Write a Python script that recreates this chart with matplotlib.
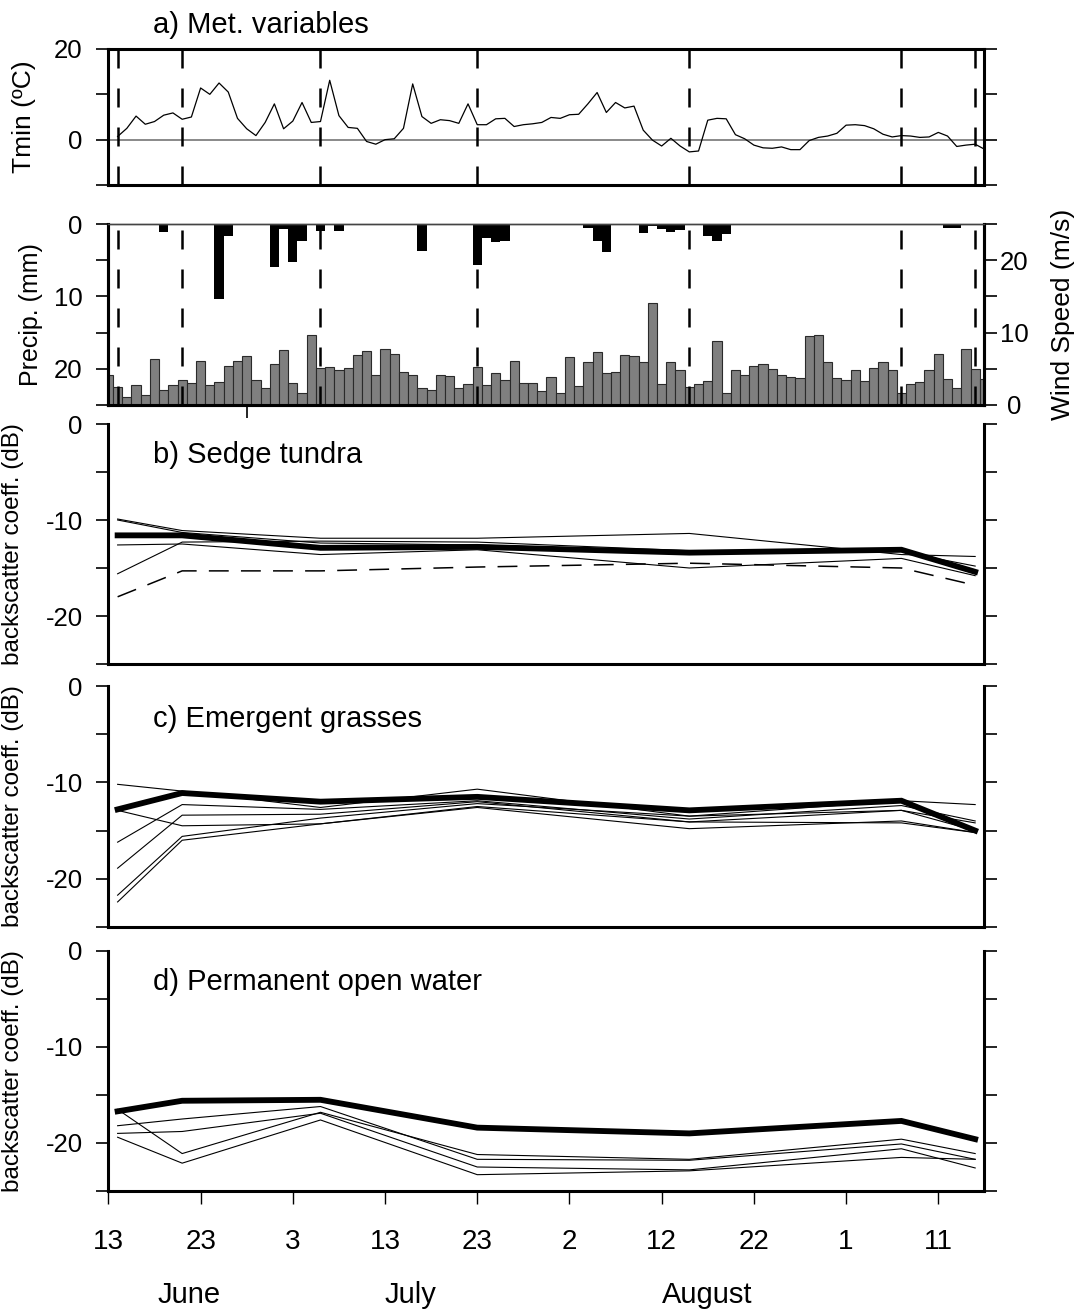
import numpy as np
import matplotlib
matplotlib.use('Agg')
from matplotlib import pyplot as plt
import matplotlib.transforms as mtransforms

plt.rcParams['font.family'] = ['Liberation Sans', 'DejaVu Sans']

# day numbers counted from 13 June
days = np.arange(0, 96)
tmin_days = np.arange(1, 96)
sar_days = [1, 8, 23, 40, 63, 86, 94]

tick_days = [0, 10, 20, 30, 40, 50, 60, 70, 80, 90]
tick_labels = ['13', '23', '3', '13', '23', '2', '12', '22', '1', '11']
months = ['June', 'July', 'August']

tmin = [0.7, 2.5, 5.2, 3.4, 4.0, 5.4, 5.9, 4.5, 5.0, 11.4,
        10.0, 12.5, 10.5, 4.7, 2.4, 0.9, 3.8, 7.9, 2.4, 4.1,
        8.2, 3.8, 4.0, 13.1, 5.3, 2.7, 2.5, -0.4, -1.0, 0.0,
        0.2, 2.5, 12.3, 5.1, 3.6, 4.4, 4.2, 3.6, 7.9, 3.3,
        3.3, 4.6, 4.7, 2.9, 3.3, 3.5, 3.8, 4.9, 4.7, 5.5,
        5.6, 7.9, 10.4, 6.0, 8.2, 7.0, 7.4, 2.1, -0.1, -1.4,
        0.3, -1.4, -2.7, -2.5, 4.3, 4.7, 4.6, 1.1, 0.2, -1.2,
        -1.8, -1.9, -1.6, -2.2, -2.2, -0.2, 0.5, 0.8, 1.4, 3.2,
        3.3, 3.1, 2.4, 1.2, 0.6, 0.9, 0.8, 0.5, 0.6, 1.6,
        0.8, -1.5, -1.2, -1.0, -2.1]

precip = [0, 0.15, 0.15, 0, 0, 0, 1.1, 0.1, 0, 0,
          0, 0, 10.4, 1.7, 0, 0, 0, 0, 6.0, 0.7,
          5.3, 2.3, 0.2, 0.9, 0.1, 0.9, 0.1, 0, 0.1, 0.1,
          0, 0, 0, 0.1, 3.7, 0.2, 0, 0.1, 0.1, 0,
          5.7, 2.0, 2.5, 2.3, 0, 0, 0, 0, 0, 0,
          0, 0, 0.6, 2.3, 3.8, 0, 0.2, 0, 1.2, 0.3,
          0.7, 1.1, 0.8, 0.1, 0.1, 1.6, 2.3, 1.4, 0.1, 0,
          0, 0.1, 0.1, 0, 0, 0.1, 0.1, 0, 0, 0,
          0.1, 0.1, 0, 0, 0.1, 0.1, 0, 0, 0, 0,
          0, 0.6, 0.6, 0, 0, 0]

wind = [4.2, 2.5, 1.1, 2.7, 1.4, 6.4, 2.1, 2.7, 3.5, 3.1,
        6.1, 2.7, 3.2, 5.4, 6.1, 6.8, 3.4, 2.3, 5.7, 7.6,
        3.1, 1.7, 9.6, 5.1, 5.3, 4.9, 5.1, 6.9, 7.5, 4.2,
        7.8, 7.0, 4.5, 4.1, 2.3, 2.1, 4.1, 4.0, 2.4, 2.9,
        5.3, 2.7, 4.4, 3.4, 6.1, 3.1, 3.0, 2.0, 3.9, 1.6,
        6.6, 2.6, 5.9, 7.3, 4.4, 4.5, 6.9, 6.7, 5.9, 14.1,
        2.9, 5.9, 4.9, 2.5, 2.9, 3.3, 8.9, 1.6, 4.9, 4.1,
        5.4, 5.7, 5.0, 4.2, 3.9, 3.7, 9.5, 9.6, 5.9, 3.7,
        3.5, 4.9, 3.3, 5.1, 5.9, 4.8, 1.7, 2.9, 3.2, 4.9,
        7.0, 3.6, 2.4, 7.7, 5.0, 3.6]

# backscatter (dB) at the SAR dates: mean (thick) and single sites (thin)
sedge_mean = [-11.6, -11.6, -12.9, -12.8, -13.4, -13.1, -15.4]
sedge_sites = [[-9.9, -11.1, -11.9, -11.9, -11.4, -13.6, -13.8],
               [-10.0, -11.3, -12.4, -12.6, -13.3, -13.3, -14.8],
               [-12.6, -12.5, -13.6, -13.1, -15.0, -14.0, -15.8],
               [-15.6, -12.3, -12.2, -12.3, -13.2, -13.2, -15.2]]
sedge_dashed = [-18.0, -15.3, -15.3, -14.9, -14.5, -15.0, -16.8]

grass_mean = [-12.8, -11.1, -12.0, -11.5, -12.9, -11.9, -15.0]
grass_sites = [[-10.2, -10.9, -12.6, -10.7, -13.5, -11.9, -12.3],
               [-12.9, -14.5, -14.3, -12.6, -14.8, -14.0, -15.2],
               [-16.2, -12.3, -12.8, -11.9, -13.8, -12.4, -14.0],
               [-18.9, -13.4, -13.3, -12.0, -14.1, -12.9, -14.2],
               [-21.7, -15.6, -13.7, -12.2, -13.5, -12.9, -15.0],
               [-22.4, -16.0, -14.3, -12.5, -14.1, -14.2, -15.2]]

water_mean = [-16.7, -15.6, -15.5, -18.4, -19.0, -17.7, -19.6]
water_sites = [[-16.5, -21.1, -16.8, -21.2, -21.7, -19.6, -21.1],
               [-18.2, -17.5, -16.2, -21.7, -21.8, -20.1, -21.7],
               [-19.0, -18.8, -16.9, -22.5, -22.8, -20.6, -22.6],
               [-19.4, -22.1, -17.6, -23.3, -22.9, -21.5, -21.7]]

W_PX, H_PX = 1078, 1311
X0, X1 = 108.4, 984.4
SPINE = 2.2
TICKFS = 18.5


def box(top, bottom):
    return [X0 / W_PX, 1 - bottom / H_PX, (X1 - X0) / W_PX, (bottom - top) / H_PX]


def dashed_dates(ax):
    for d in sar_days:
        ax.axvline(d, color='black', lw=1.8, linestyle=(0, (7.6, 8.0)), zorder=5)


fig = plt.figure(figsize=(W_PX / 100, H_PX / 100), dpi=100)

# a) Tmin
ax_t = fig.add_axes(box(49, 185))
ax_t.axhline(0, color='#808080', lw=1.3, zorder=1)
ax_t.plot(tmin_days, tmin, color='black', lw=0.9, zorder=3)
dashed_dates(ax_t)
ax_t.set_xlim(0, 95)
ax_t.set_ylim(-10, 20)
ax_t.set_yticks([-10, 0, 10, 20])
ax_t.set_yticklabels(['', '0', '', '20'])
ax_t.tick_params(axis='y', direction='out', length=9, width=1.2, labelsize=TICKFS,
                 pad=9.5, left=True, right=True, labelright=False)
ax_t.set_xticks([])
for s in ax_t.spines.values():
    s.set_linewidth(SPINE)
ax_t.set_ylabel('Tmin (ºC)', fontsize=19, va='center')
ax_t.yaxis.set_label_coords((24 - X0) / (X1 - X0), 0.5)

# precipitation (down from top) and wind speed (up from bottom)
ax_p = fig.add_axes(box(224, 405))
ax_p.bar(days, precip, width=1, color='black', zorder=2)
ax_p.set_xlim(0, 95)
ax_p.set_ylim(25, 0)
ax_p.set_yticks([0, 5, 10, 15, 20, 25])
ax_p.set_yticklabels(['0', '', '10', '', '20', ''])
ax_p.tick_params(axis='y', direction='out', length=9, width=1.2, labelsize=TICKFS,
                 pad=9.5, left=True, right=False)
ax_p.set_xticks([15])
ax_p.set_xticklabels([''])
ax_p.tick_params(axis='x', direction='out', length=9, width=1.2)
ax_p.set_ylabel('Precip. (mm)', fontsize=18, va='center')
ax_p.yaxis.set_label_coords((31 - X0) / (X1 - X0), 0.5)

ax_w = ax_p.twinx()
ax_w.bar(days, wind, width=1, color='#7f7f7f', edgecolor='#2a2a2a', lw=0.8, zorder=2)
dashed_dates(ax_w)
ax_w.set_ylim(0, 25)
ax_w.set_yticks([0, 5, 10, 15, 20, 25])
ax_w.set_yticklabels(['0', '', '10', '', '20', ''])
ax_w.tick_params(axis='y', direction='out', length=9, width=1.2, labelsize=TICKFS, pad=12.5)
for t in ax_w.get_yticklabels():
    t.set_horizontalalignment('center')
ax_w.set_ylabel('Wind Speed (m/s)', fontsize=19, va='center', rotation=90)
ax_w.yaxis.set_label_coords((1063 - X0) / (X1 - X0), 0.5)
for a in (ax_p, ax_w):
    for k in ('left', 'right', 'bottom'):
        a.spines[k].set_linewidth(SPINE)
    a.spines['top'].set_linewidth(1.0)
    a.spines['top'].set_color('#444444')

# b), c), d) backscatter panels
panels = [
    ('b) Sedge tundra', (424, 664), sedge_mean, sedge_sites, 463),
    ('c) Emergent grasses', (686, 927), grass_mean, grass_sites, 726.5),
    ('d) Permanent open water', (951, 1191), water_mean, water_sites, 990),
]
axes = []
for title, (top, bot), mean, sites, base in panels:
    ax = fig.add_axes(box(top, bot))
    for site in sites:
        ax.plot(sar_days, site, color='black', lw=0.8, zorder=2)
    ax.plot(sar_days, mean, color='black', lw=4.2, zorder=3, solid_joinstyle='miter')
    ax.set_xlim(0, 95)
    ax.set_ylim(-25, 0)
    ax.set_yticks([-25, -20, -15, -10, -5, 0])
    ax.set_yticklabels(['', '-20', '', '-10', '', '0'])
    ax.tick_params(axis='y', direction='out', length=9, width=1.2, labelsize=TICKFS,
                   pad=9.5, left=True, right=True, labelright=False)
    ax.set_xticks([])
    ax.spines['top'].set_visible(False)
    for k in ('left', 'right', 'bottom'):
        ax.spines[k].set_linewidth(SPINE)
    ax.set_ylabel('backscatter coeff. (dB)', fontsize=17.5, va='center')
    ax.yaxis.set_label_coords((13 - X0) / (X1 - X0), 0.5)
    fig.text(153 / W_PX, 1 - base / H_PX, title, fontsize=21, va='baseline', ha='left')
    axes.append(ax)

axes[0].plot(sar_days, sedge_dashed, color='black', lw=1.1,
             linestyle=(0, (13, 8)), zorder=2)

ax_d = axes[-1]
ax_d.set_xticks(tick_days)
ax_d.set_xticklabels(tick_labels)
ax_d.tick_params(axis='x', direction='out', length=9.5, width=1.0, labelsize=20, pad=18)

trans = mtransforms.blended_transform_factory(ax_d.transData, ax_d.transAxes)
for name, xpos in zip(months, [8.8, 32.8, 64.9]):
    ax_d.text(xpos, -0.468, name, transform=trans, fontsize=21, ha='center', va='baseline')

fig.text(153 / W_PX, 1 - 32.7 / H_PX, 'a) Met. variables', fontsize=21, va='baseline', ha='left')

fig.savefig('out.png', dpi=100)
